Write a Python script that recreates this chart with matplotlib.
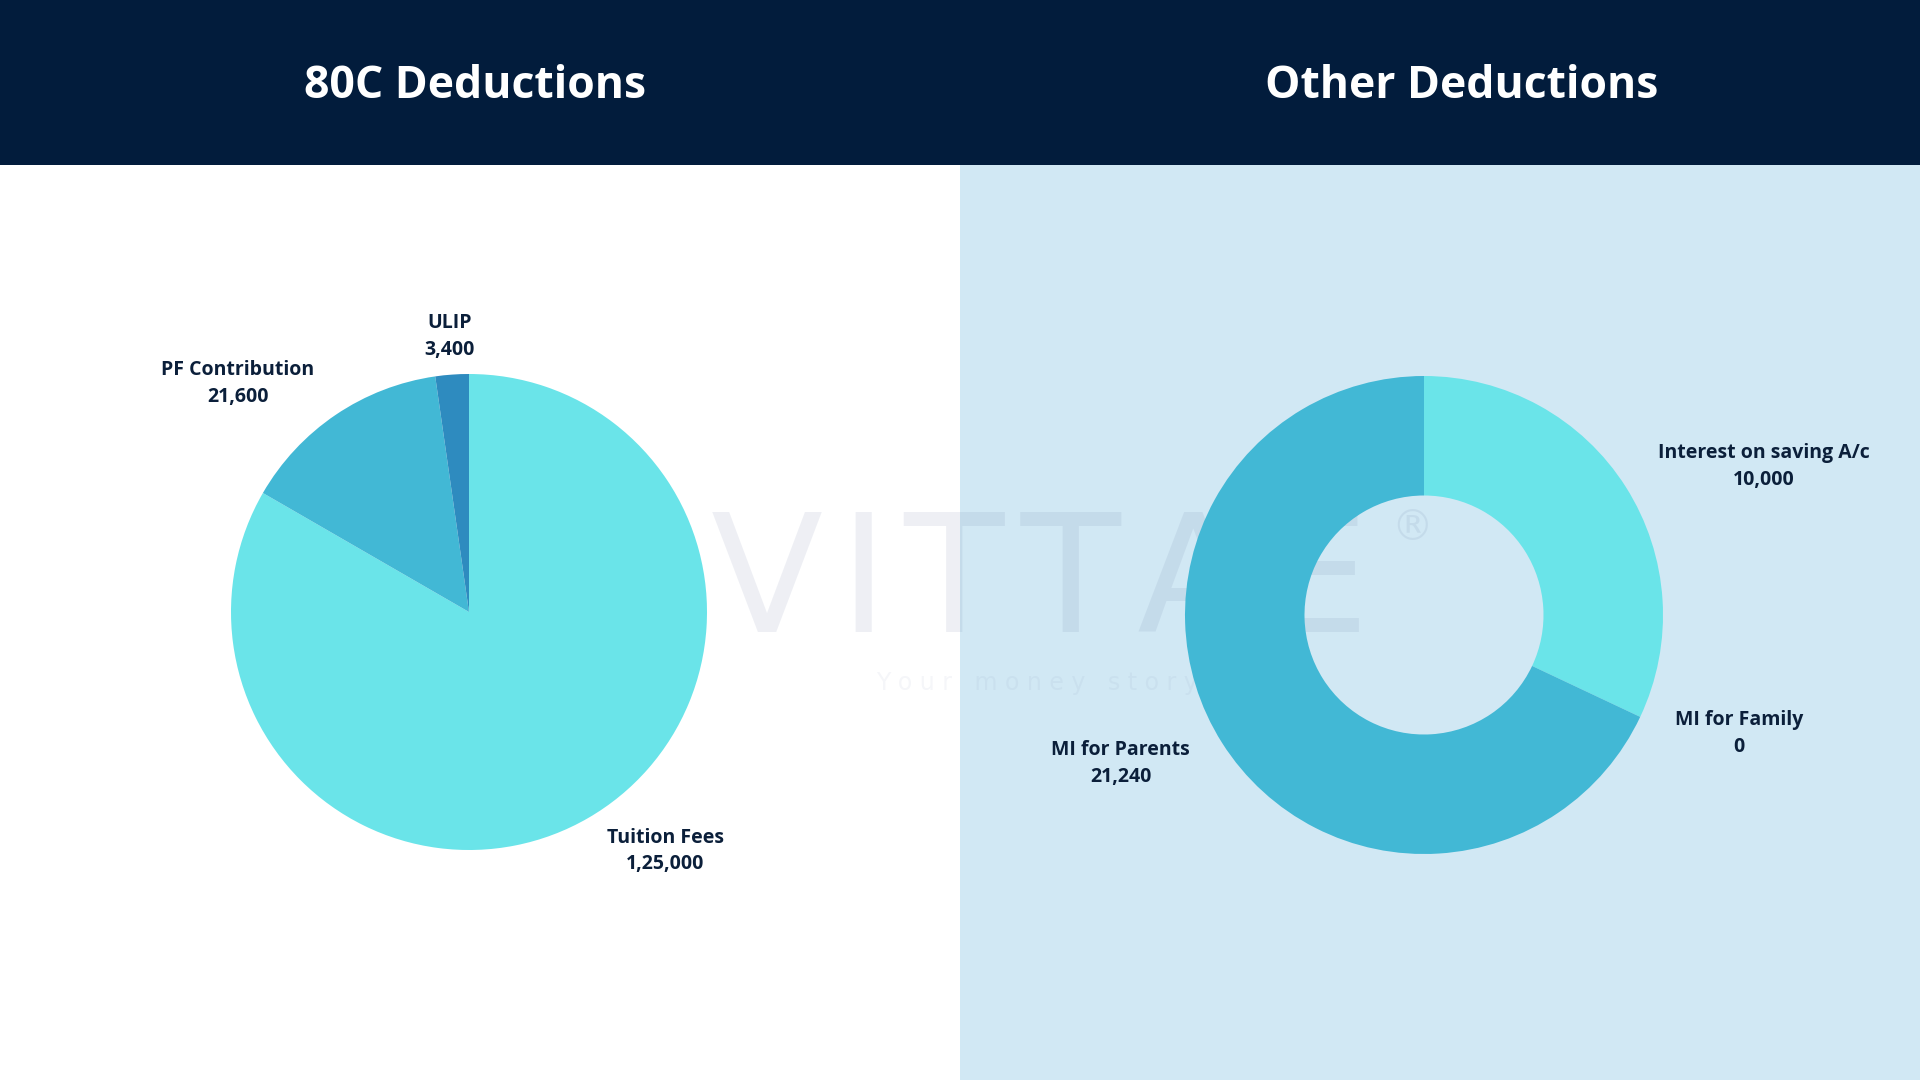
import numpy as np
import matplotlib.pyplot as plt
from matplotlib.patches import Rectangle

plt.rcParams['font.family'] = ['Open Sans', 'DejaVu Sans']

# data
titles = ['80C Deductions', 'Other Deductions']
left_labels = ['Tuition Fees', 'PF Contribution', 'ULIP']
left_values = [125000, 21600, 3400]
right_labels = ['Interest on saving A/c', 'MI for Family', 'MI for Parents']
right_values = [10000, 0, 21240]

NAVY = '#021c3c'
PANEL = '#d1e8f4'
TEXT = '#0b1f3a'
left_colors = ['#6ae4e9', '#42b8d5', '#2e8bbf']
right_colors = ['#6ae4e9', '#2e8bbf', '#42b8d5']

W, H = 1920, 1080


def indian(n):
    # indian digit grouping, e.g. 1,25,000
    s = str(int(n))
    if len(s) <= 3:
        return s
    head, tail = s[:-3], s[-3:]
    parts = []
    while len(head) > 2:
        parts.insert(0, head[-2:])
        head = head[:-2]
    if head:
        parts.insert(0, head)
    return ','.join(parts + [tail])


def pie_axes(fig, cx, cy, r):
    return fig.add_axes([(cx - r) / W, (H - cy - r) / H, 2 * r / W, 2 * r / H])


def draw_pie(ax, values, labels, colors, hole=None):
    wp = dict(linewidth=0)
    if hole:
        wp['width'] = 1 - hole
    wedges, _ = ax.pie(values, colors=colors, startangle=90, counterclock=False,
                       radius=1, wedgeprops=wp)
    for w, lab, val in zip(wedges, labels, values):
        ang = np.deg2rad((w.theta1 + w.theta2) / 2)
        x, y = 1.16 * np.cos(ang), 1.16 * np.sin(ang)
        if abs(np.cos(ang)) < 0.2:
            ha = 'center'
        else:
            ha = 'left' if x > 0 else 'right'
        ax.text(x, y, f'{lab}\n{indian(val)}', ha=ha, va='center',
                multialignment='center', fontsize=14, fontweight='bold',
                color=TEXT, linespacing=1.45)
    ax.set_xlim(-1, 1)
    ax.set_ylim(-1, 1)
    ax.axis('off')


fig = plt.figure(figsize=(19.2, 10.8), dpi=100)
fig.patch.set_facecolor('white')

hdr = 165
fig.patches.append(Rectangle((0, 1 - hdr / H), 1, hdr / H, transform=fig.transFigure,
                             facecolor=NAVY, edgecolor='none', zorder=-3))
fig.patches.append(Rectangle((0.5, 0), 0.5, 1 - hdr / H, transform=fig.transFigure,
                             facecolor=PANEL, edgecolor='none', zorder=-3))

fig.text(475 / W, 1 - 86 / H, titles[0], ha='center', va='center', color='white',
         fontsize=32, fontweight='bold')
fig.text(1462 / W, 1 - 86 / H, titles[1], ha='center', va='center', color='white',
         fontsize=32, fontweight='bold')

# watermark behind the charts
hair = '\u200a'
fig.text(1040 / W, 1 - 632 / H, hair.join('VITTAE'), ha='center', va='baseline',
         fontsize=118, color='#5a6a9a', alpha=0.1, family='DejaVu Sans', zorder=-2)
fig.text(1412 / W, 1 - 528 / H, '\u00ae', ha='center', va='center', fontsize=30,
         color='#5a6a9a', alpha=0.1, family='DejaVu Sans', zorder=-2)
fig.text(876 / W, 1 - 690 / H, '   '.join(' '.join(wd) for wd in 'Your money story'.split()),
         ha='left', va='baseline', fontsize=17, color='#5a6a9a', alpha=0.06,
         family='DejaVu Sans', zorder=-2)

ax1 = pie_axes(fig, 469, 612, 238)
draw_pie(ax1, left_values, left_labels, left_colors)

ax2 = pie_axes(fig, 1424, 615, 239)
draw_pie(ax2, right_values, right_labels, right_colors, hole=0.5)

fig.savefig('out.png', dpi=100)
